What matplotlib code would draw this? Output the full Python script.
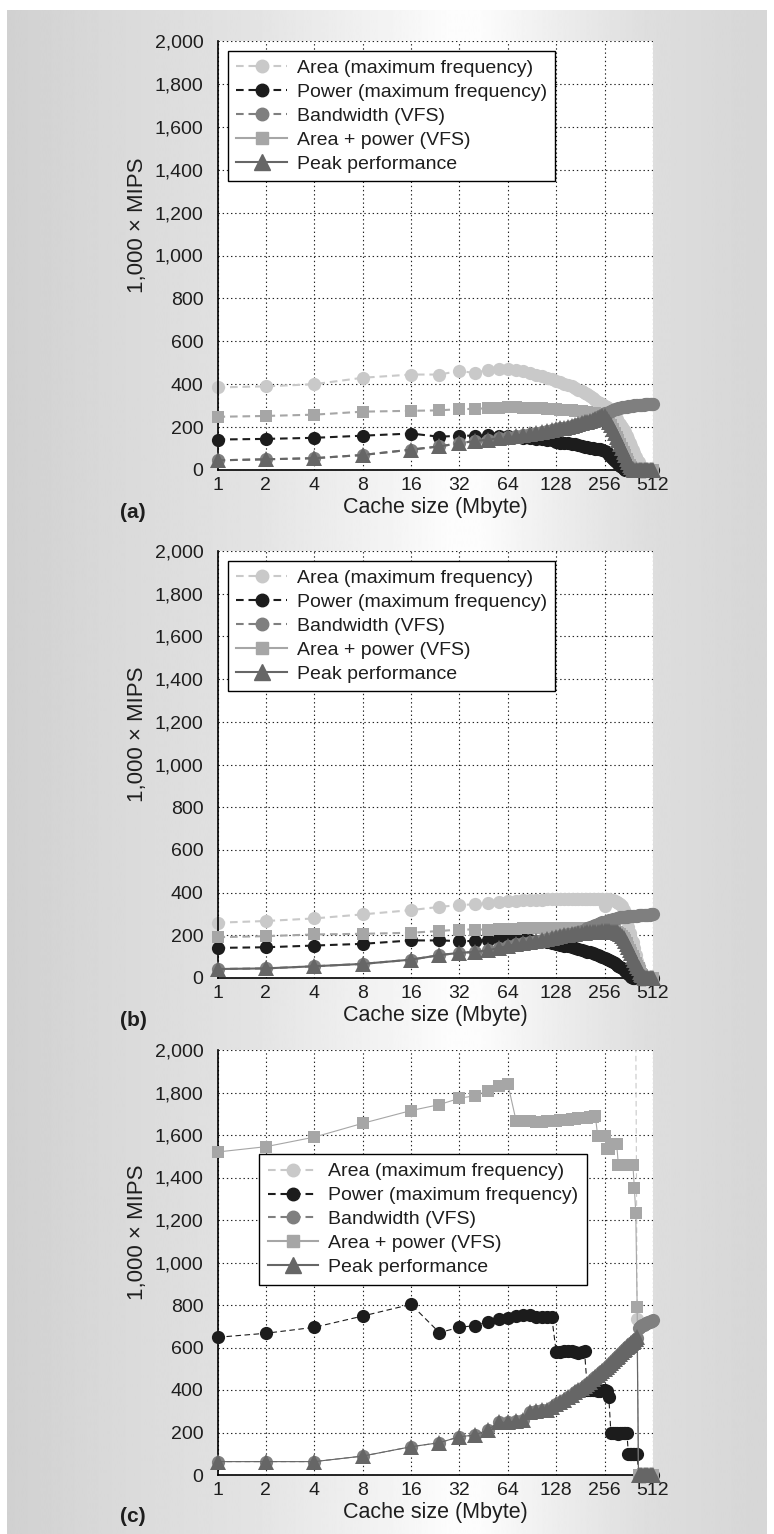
import numpy as np
import matplotlib
matplotlib.use('Agg')
import matplotlib.pyplot as plt
from matplotlib.lines import Line2D
from matplotlib.ticker import FuncFormatter

plt.rcParams['font.family'] = ['Liberation Sans', 'DejaVu Sans']
plt.rcParams['lines.scale_dashes'] = False

#----- data (1,000 x MIPS vs cache size in Mbyte)
cache_mb = [1, 2, 4, 8, 16, 24, 32, 40, 48, 56,
            64, 72, 80, 88, 96, 104, 112, 120, 128, 136,
            144, 152, 160, 168, 176, 184, 192, 200, 208, 216,
            224, 232, 240, 248, 256, 264, 272, 280, 288, 296,
            304, 312, 320, 328, 336, 344, 352, 360, 368, 376,
            384, 392, 400, 408, 416, 424, 432, 440, 448, 456,
            464, 472, 480, 488, 496, 504, 512]
xticks = [1, 2, 4, 8, 16, 32, 64, 128, 256, 512]
yticks = [0, 200, 400, 600, 800, 1000, 1200, 1400, 1600, 1800, 2000]
labels = ['Area (maximum frequency)', 'Power (maximum frequency)',
          'Bandwidth (VFS)', 'Area + power (VFS)', 'Peak performance']

# panel (a)
area_a = [385, 390, 400, 430, 445, 445, 462, 452, 467, 470,
          470, 466, 460, 452, 442, 436, 430, 422, 415, 408,
          402, 396, 390, 382, 375, 368, 360, 352, 344, 336,
          326, 318, 312, 306, 300, 292, 284, 275, 262, 250,
          238, 226, 214, 200, 188, 175, 160, 145, 128, 112,
          95, 80, 62, 48, 35, 22, 12, 5, 0, 0,
          0, 0, 0, 0, 0, 0, 0]
power_a = [142, 145, 150, 160, 170, 155, 160, 160, 162, 160,
           158, 152, 150, 148, 146, 144, 142, 140, 132, 128,
           126, 124, 122, 120, 118, 112, 108, 106, 104, 102,
           100, 98, 96, 94, 90, 82, 72, 62, 52, 44,
           36, 28, 20, 12, 6, 0, 0, 0, 0, 0,
           0, 0, 0, 0, 0, 0, 0, 0, 0, 0,
           0, 0, 0, 0, 0, 0, 0]
bandwidth_a = [45, 50, 55, 70, 95, 110, 125, 135, 142, 148,
               155, 160, 165, 170, 174, 178, 182, 186, 190, 194,
               198, 202, 206, 210, 214, 218, 222, 226, 230, 234,
               240, 246, 252, 258, 264, 268, 272, 276, 280, 283,
               286, 288, 290, 292, 294, 295, 296, 297, 298, 299,
               300, 301, 302, 302, 303, 304, 304, 305, 305, 306,
               306, 307, 307, 308, 308, 309, 310]
area_power_a = [248, 252, 258, 272, 276, 278, 284, 285, 288, 290,
                292, 292, 291, 290, 289, 288, 286, 285, 283, 282,
                280, 279, 278, 276, 275, 273, 272, 270, 268, 266,
                264, 262, 260, 256, 250, 240, 226, 210, 192, 174,
                156, 138, 120, 102, 85, 68, 52, 38, 25, 14,
                6, 0, 0, 0, 0, 0, 0, 0, 0, 0,
                0, 0, 0, 0, 0, 0, 0]
peak_a = [45, 50, 55, 70, 95, 110, 125, 135, 142, 148,
          155, 160, 165, 170, 174, 178, 182, 186, 190, 194,
          198, 202, 206, 210, 214, 218, 222, 226, 230, 234,
          238, 244, 248, 250, 250, 240, 226, 210, 192, 174,
          156, 138, 120, 102, 85, 68, 52, 38, 25, 14,
          6, 0, 0, 0, 0, 0, 0, 0, 0, 0,
          0, 0, 0, 0, 0, 0, 0]

# panel (b)
area_b = [259, 267, 279, 298, 318, 333, 342, 345, 350, 356,
          360, 362, 364, 365, 366, 367, 368, 368, 369, 369,
          370, 370, 370, 370, 370, 371, 371, 371, 371, 372,
          372, 372, 372, 370, 335, 368, 368, 366, 364, 362,
          358, 352, 345, 335, 320, 300, 270, 240, 210, 185,
          168, 140, 110, 80, 55, 30, 12, 0, 0, 0,
          0, 0, 0, 0, 0, 0, 0]
power_b = [141, 144, 152, 160, 176, 176, 173, 173, 180, 185,
           190, 186, 182, 178, 175, 172, 168, 164, 160, 156,
           152, 148, 144, 140, 136, 132, 128, 124, 120, 116,
           112, 108, 104, 100, 96, 90, 84, 78, 73, 68,
           63, 58, 52, 46, 40, 34, 28, 20, 12, 5,
           0, 0, 0, 0, 0, 0, 0, 0, 0, 0,
           0, 0, 0, 0, 0, 0, 0]
bandwidth_b = [42, 45, 55, 66, 86, 107, 118, 122, 129, 141,
               150, 158, 164, 170, 175, 180, 184, 188, 192, 196,
               200, 204, 208, 212, 216, 220, 226, 232, 238, 243,
               248, 252, 256, 260, 264, 267, 270, 273, 276, 278,
               280, 282, 284, 285, 286, 287, 288, 289, 290, 290,
               291, 291, 292, 292, 293, 293, 294, 294, 295, 295,
               296, 296, 297, 297, 298, 298, 299]
area_power_b = [191, 196, 204, 207, 212, 220, 227, 227, 227, 228,
                230, 231, 232, 232, 233, 233, 234, 234, 234, 234,
                234, 234, 234, 234, 234, 233, 233, 232, 232, 231,
                230, 229, 228, 227, 226, 225, 224, 222, 220, 218,
                216, 212, 206, 198, 188, 176, 162, 147, 132, 117,
                102, 87, 72, 57, 46, 31, 21, 13, 7, 0,
                0, 0, 0, 0, 0, 0, 0]
peak_b = [42, 45, 55, 66, 86, 107, 118, 122, 129, 141,
          150, 158, 164, 170, 175, 180, 184, 188, 192, 196,
          200, 203, 206, 208, 210, 212, 213, 214, 215, 216,
          216, 217, 217, 218, 218, 218, 218, 217, 216, 215,
          214, 210, 204, 196, 186, 174, 160, 145, 130, 115,
          100, 85, 70, 55, 45, 30, 20, 12, 6, 0,
          0, 0, 0, 0, 0, 0, 0]

# panel (c) - area (max freq) is off the top of the chart below ~400 Mbyte
area_c = [None] * 50 + [None, None, 2100, 735, 0, 0, 0, 0, 0, 0,
                        0, 0, 0, 0, 0, 0, 0]
power_c = [648, 667, 695, 748, 803, 670, 695, 703, 722, 734,
           737, 750, 753, 753, 742, 742, 745, 745, 578, 580,
           583, 585, 582, 578, 576, 580, 583, 400, 402, 400,
           398, 396, 395, 398, 400, 396, 365, 200, 198, 197,
           196, 195, 196, 197, 198, 199, 200, 100, 100, 100,
           100, 100, 100, 100, 0, 0, 0, 0, 0, 0,
           0, 0, 0, 0, 0, 0, 0]
bandwidth_c = [63, 63, 63, 89, 133, 152, 180, 188, 212, 248,
               248, 252, 258, 298, 302, 304, 306, 318, 335, 345,
               355, 368, 378, 390, 398, 408, 420, 430, 440, 452,
               460, 470, 478, 488, 498, 508, 518, 528, 538, 546,
               554, 562, 570, 578, 586, 594, 602, 608, 614, 620,
               626, 632, 638, 644, 690, 695, 700, 704, 708, 711,
               714, 717, 720, 722, 724, 726, 728]
area_power_c = [1520, 1545, 1590, 1655, 1715, 1743, 1773, 1785, 1808, 1829,
                1840, 1668, 1664, 1664, 1661, 1661, 1664, 1668, 1668, 1670,
                1670, 1672, 1675, 1675, 1678, 1680, 1680, 1682, 1684, 1686,
                1690, 1595, 1595, 1595, 1595, 1536, 1536, 1560, 1560, 1560,
                1560, 1458, 1458, 1458, 1458, 1458, 1458, 1458, 1458, 1458,
                1458, 1352, 1233, 792, 0, 0, 0, 0, 0, 0,
                0, 0, 0, 0, 0, 0, 0]
peak_c = [63, 63, 63, 89, 133, 152, 180, 188, 212, 248,
          248, 252, 258, 298, 302, 304, 306, 318, 335, 345,
          355, 368, 378, 390, 398, 408, 420, 430, 440, 452,
          460, 470, 478, 488, 498, 508, 518, 528, 538, 546,
          554, 562, 570, 578, 586, 594, 602, 608, 614, 620,
          626, 632, 638, 648, 0, 0, 0, 0, 0, 0,
          0, 0, 0, 0, 0, 0, 0]

#----- styles
colors = ['#c9c9c9', '#1c1c1c', '#7f7f7f', '#a6a6a6', '#666666']
markers = ['o', 'o', 'o', 's', '^']
msizes = [9.5, 9.5, 9.5, 9.0, 12.0]
zorders = [2, 3, 5, 4, 6]
DASH = (0, (5.5, 3.5))
DASH_THIN = (0, (4, 2.5))
TXT = '#1e1e1e'

W, H = 774, 1534
fig = plt.figure(figsize=(W / 100, H / 100), dpi=100)

# grey gradient backdrop
bg = fig.add_axes([0, 0, 1, 1], zorder=-10)
bg.set_xlim(0, W)
bg.set_ylim(H, 0)
bg.axis('off')
gx = np.arange(W)
grad = np.interp(gx, [7, 100, 250, 400, 450, 480, 560, 650, 767],
                 [0.82, 0.85, 0.89, 0.96, 0.99, 0.99, 0.93, 0.87, 0.84])
bg.imshow(np.tile(grad, (2, 1)), cmap='gray', vmin=0, vmax=1,
          extent=(7, 767, H, 10), aspect='auto', interpolation='bilinear')

legend_handles = [
    Line2D([], [], color=colors[0], ls=DASH, lw=1.5, marker='o', ms=9),
    Line2D([], [], color=colors[1], ls=DASH, lw=1.5, marker='o', ms=9),
    Line2D([], [], color=colors[2], ls=DASH, lw=1.5, marker='o', ms=9),
    Line2D([], [], color=colors[3], ls='-', lw=1.5, marker='s', ms=8.5),
    Line2D([], [], color=colors[4], ls='-', lw=1.5, marker='^', ms=11),
]

panels = [
    ('(a)', [area_a, power_a, bandwidth_a, area_power_a, peak_a],
     [DASH, DASH, DASH, DASH, DASH], 1.5, (0.023, 0.977), 470, 429),
    ('(b)', [area_b, power_b, bandwidth_b, area_power_b, peak_b],
     [DASH, DASH, DASH, DASH, '-'], 1.5, (0.023, 0.977), 978, 427),
    ('(c)', [area_c, power_c, bandwidth_c, area_power_c, peak_c],
     [DASH_THIN, DASH_THIN, DASH_THIN, '-', '-'], 0.8, (0.095, 0.755), 1475, 425),
]

x = np.array(cache_mb, dtype=float)
for tag, series, styles, lw, legxy, y0, hpx in panels:
    ax = fig.add_axes([217.5 / W, 1 - y0 / H, 435.5 / W, hpx / H])
    for i, vals in enumerate(series):
        y = np.array(vals, dtype=float)
        clip = (tag == '(c)' and i == 0)
        ax.plot(x, y, color=colors[i], ls=styles[i], lw=lw, marker=markers[i],
                ms=msizes[i], mec=colors[i], mew=0, zorder=zorders[i],
                clip_on=clip)
    ax.set_xscale('log', base=2)
    ax.set_xlim(1, 512)
    ax.set_ylim(0, 2000)
    ax.set_xticks(xticks)
    ax.set_xticklabels([str(v) for v in xticks])
    ax.minorticks_off()
    ax.set_yticks(yticks)
    ax.yaxis.set_major_formatter(FuncFormatter(lambda v, p: f'{int(v):,}'))
    ax.tick_params(axis='both', length=0, labelsize=14, colors=TXT)
    ax.tick_params(axis='y', pad=10)
    ax.tick_params(axis='x', pad=5)
    ax.grid(True, ls=(0, (1, 2)), color='#222222', lw=0.8)
    ax.set_axisbelow(True)
    for s in ['top', 'right']:
        ax.spines[s].set_visible(False)
    for s in ['left', 'bottom']:
        ax.spines[s].set_linewidth(1.2)
        ax.spines[s].set_color('black')
    ax.set_xlabel('Cache size (Mbyte)', fontsize=15.5, color=TXT, labelpad=2)
    ax.set_ylabel('1,000 \u00d7 MIPS', fontsize=16, color=TXT)
    ax.yaxis.set_label_coords(-0.16, 0.57)
    leg = ax.legend(handles=legend_handles, labels=labels, loc='upper left',
                    bbox_to_anchor=legxy, fontsize=14, frameon=True,
                    fancybox=False, framealpha=1, edgecolor='black',
                    handlelength=2.6, handletextpad=0.5, labelspacing=0.32,
                    borderpad=0.45, borderaxespad=0)
    for t in leg.get_texts():
        t.set_color(TXT)
    leg.get_frame().set_linewidth(1.0)
    leg.set_zorder(10)
    fig.text(120 / W, 1 - (y0 + 42) / H, tag, fontsize=15, fontweight='bold',
             ha='left', va='center', color=TXT)

fig.savefig('out.png', dpi=100)
plt.close('all')
